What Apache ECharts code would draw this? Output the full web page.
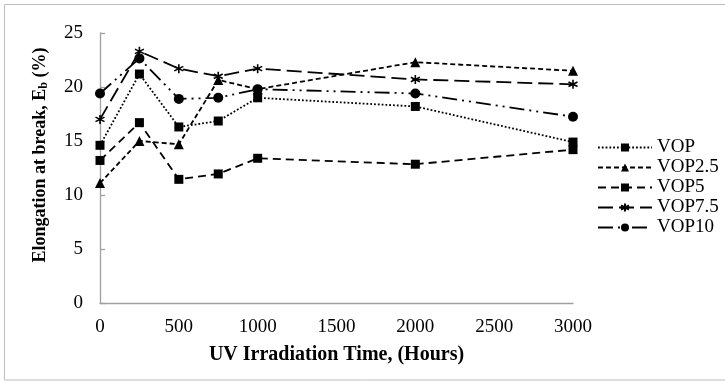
<!DOCTYPE html>
<html>
<head>
<meta charset="utf-8">
<script src="https://cdn.jsdelivr.net/npm/echarts@6/dist/echarts.min.js"></script>
<style>
html,body{margin:0;padding:0;background:#fff;}
#chart{width:725px;height:382px;}
</style>
</head>
<body>
<div id="chart"></div>
<script>
// Data
var hours = [0, 250, 500, 750, 1000, 2000, 3000];
var xTicks = [0, 500, 1000, 1500, 2000, 2500, 3000];
var seriesNames = ['VOP', 'VOP2.5', 'VOP5', 'VOP7.5', 'VOP10'];
var vop    = [14.6, 21.2, 16.3, 16.85, 19.0, 18.2, 14.9];
var vop25  = [11.1, 15.0, 14.7, 20.65, 19.8, 22.3, 21.5];
var vop5   = [13.2, 16.7, 11.45, 11.95, 13.4, 12.85, 14.2];
var vop75  = [17.0, 23.3, 21.7, 21.0, 21.7, 20.7, 20.25];
var vop10  = [19.4, 22.65, 18.9, 19.0, 19.8, 19.4, 17.25];

var allValues = [vop, vop25, vop5, vop75, vop10];
var asterisk = 'path://M5,0 L5,10 M0.67,2.5 L9.33,7.5 M0.67,7.5 L9.33,2.5';
var styles = [
  {symbol: 'rect', size: 9, dash: [1.8, 2]},
  {symbol: 'triangle', size: 10, dash: [5, 3]},
  {symbol: 'rect', size: 9, dash: [8, 5]},
  {symbol: asterisk, size: 9, dash: [15, 6]},
  {symbol: 'circle', size: 10, dash: [15, 5, 2, 5, 2, 5]}
];

function pairs(vals) { return hours.map(function (h, i) { return [h, vals[i]]; }); }

var series = seriesNames.map(function (name, k) {
  var st = styles[k];
  return {
    name: name,
    type: 'line',
    data: pairs(allValues[k]),
    symbol: st.symbol,
    symbolSize: st.size,
    showAllSymbol: true,
    lineStyle: {color: '#000', width: 1.8, type: st.dash},
    itemStyle: {color: '#000', borderColor: '#000', borderWidth: k === 3 ? 1.6 : 0},
    emphasis: {disabled: true},
    animation: false
  };
});

var serif = '"Liberation Serif", "Times New Roman", serif';
var chart = echarts.init(document.getElementById('chart'), null, {renderer: 'canvas'});
chart.setOption({
  backgroundColor: '#fff',
  animation: false,
  grid: {left: 100, right: 152, top: 33, bottom: 79, containLabel: false},
  graphic: [{
    type: 'rect', silent: true,
    shape: {x: 4.5, y: 4.5, width: 740, height: 375.5},
    style: {fill: 'none', stroke: '#bdbdbd', lineWidth: 1}
  }],
  legend: {
    orient: 'vertical', left: 592, top: 133,
    itemWidth: 54, itemHeight: 10, itemGap: 1,
    data: seriesNames,
    textStyle: {fontFamily: serif, fontSize: 19, color: '#000', lineHeight: 19, padding: [0, 0, 0, 0]},
    selectedMode: false
  },
  xAxis: {
    type: 'value', min: 0, max: 3000, interval: 500,
    name: 'UV Irradiation Time, (Hours)', nameLocation: 'middle', nameGap: 42,
    nameTextStyle: {fontFamily: serif, fontSize: 20, fontWeight: 'bold', color: '#000'},
    axisLine: {show: true, lineStyle: {color: '#a0a0a0', width: 1.3}},
    axisTick: {show: false},
    splitLine: {show: false},
    axisLabel: {fontFamily: serif, fontSize: 19, color: '#000', margin: 15,
      formatter: function (v) { return xTicks.indexOf(v) >= 0 ? String(v) : ''; }}
  },
  yAxis: {
    type: 'value', min: 0, max: 25, interval: 5,
    name: 'Elongation at break, E{sub|b} (%)', nameLocation: 'middle', nameGap: 50, nameRotate: 90,
    nameTextStyle: {fontFamily: serif, fontSize: 18, fontWeight: 'bold', color: '#000', padding: [0, 0, 0, 26],
      rich: {sub: {fontFamily: serif, fontSize: 12, fontWeight: 'bold', color: '#000', verticalAlign: 'bottom', padding: [8, 0, 0, 0]}}},
    axisLine: {show: true, lineStyle: {color: '#a0a0a0', width: 1.3}},
    axisTick: {show: true, inside: true, length: 5, lineStyle: {color: '#a0a0a0', width: 1.3}},
    splitLine: {show: false},
    axisLabel: {fontFamily: serif, fontSize: 19, color: '#000', margin: 17}
  },
  series: series
});
</script>
</body>
</html>
